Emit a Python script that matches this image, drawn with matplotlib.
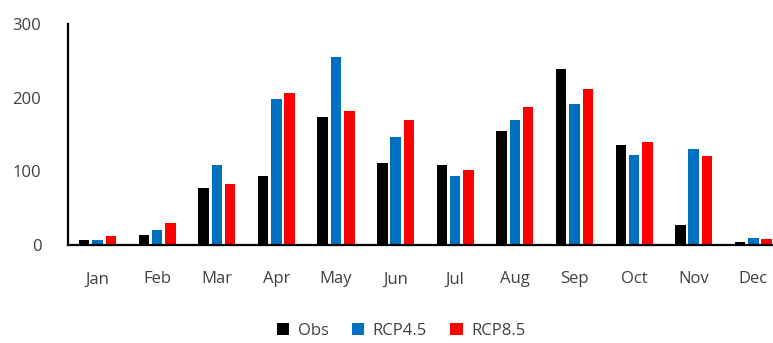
import matplotlib.pyplot as plt
import numpy as np

months = ["Jan", "Feb", "Mar", "Apr", "May", "Jun",
          "Jul", "Aug", "Sep", "Oct", "Nov", "Dec"]
obs = [7, 13, 77, 94, 174, 112, 108, 155, 239, 136, 27, 4]
rcp45 = [7, 21, 108, 198, 256, 147, 94, 170, 192, 122, 130, 9]
rcp85 = [12, 30, 83, 206, 182, 170, 102, 187, 212, 140, 121, 8]

plt.rcParams['font.family'] = ['Open Sans', 'DejaVu Sans']

fig = plt.figure(figsize=(7.73, 3.43), dpi=100)
ax = fig.add_axes([0.0876, 0.2857, 0.9124, 0.644])

x = np.arange(len(months))
step = 0.223
w = 0.176
ax.bar(x - step, obs, w, color="black", label="Obs")
ax.bar(x, rcp45, w, color="#0070C0", label="RCP4.5")
ax.bar(x + step, rcp85, w, color="#FF0000", label="RCP8.5")

ax.set_xlim(-0.5, 11.33)
ax.set_ylim(0, 300)
ax.set_yticks([0, 100, 200, 300])
ax.set_xticks(x)
ax.set_xticklabels(months)
ax.tick_params(axis='both', length=0, labelsize=12, colors="#404040")
ax.tick_params(axis='x', pad=19)
ax.tick_params(axis='y', pad=19)

for s in ["top", "right"]:
    ax.spines[s].set_visible(False)
for s in ["left", "bottom"]:
    ax.spines[s].set_linewidth(1.6)
    ax.spines[s].set_color("black")

fig.legend(loc="center", bbox_to_anchor=(0.519, 0.035), ncol=3, frameon=False,
           fontsize=12, handlelength=0.75, handleheight=0.75, handletextpad=0.5,
           columnspacing=1.4, labelcolor="#404040")

fig.savefig("out.png", dpi=100)
